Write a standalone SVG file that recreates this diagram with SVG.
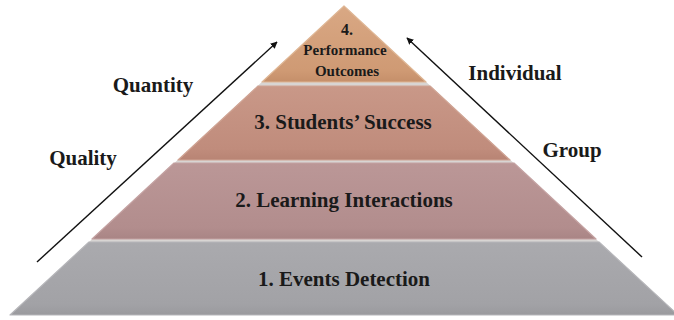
<svg xmlns="http://www.w3.org/2000/svg" width="674" height="320" viewBox="0 0 674 320">
<style>
.t{font-family:"Liberation Serif","Times New Roman",serif;font-weight:bold;fill:#1a1a1a;text-anchor:middle}
.big{font-size:21px}
.sm{font-size:15px}
.tier{stroke-width:1.2;stroke-linejoin:round}
.arr{stroke:#111;stroke-width:1.4;fill:none;marker-end:url(#ah)}
</style>
<defs>
<marker id="ah" viewBox="0 0 10 10" refX="9" refY="5" markerWidth="7" markerHeight="7" orient="auto" markerUnits="userSpaceOnUse">
<path d="M0,0 L10,5 L0,10 Z" fill="#111"/>
</marker>
<linearGradient id="g4" x1="0" y1="0" x2="0" y2="1">
<stop offset="0" stop-color="#d9a884"/><stop offset="0.85" stop-color="#cf9a74"/><stop offset="1" stop-color="#c58f6a"/>
</linearGradient>
<linearGradient id="g3" x1="0" y1="0" x2="0" y2="1">
<stop offset="0" stop-color="#c99888"/><stop offset="0.85" stop-color="#c08c7c"/><stop offset="1" stop-color="#b88474"/>
</linearGradient>
<linearGradient id="g2" x1="0" y1="0" x2="0" y2="1">
<stop offset="0" stop-color="#bb9797"/><stop offset="0.85" stop-color="#b28d8d"/><stop offset="1" stop-color="#a98585"/>
</linearGradient>
<linearGradient id="g1" x1="0" y1="0" x2="0" y2="1">
<stop offset="0" stop-color="#aaaaae"/><stop offset="0.85" stop-color="#a2a2a6"/><stop offset="1" stop-color="#9a9a9e"/>
</linearGradient>
</defs>
<rect width="674" height="320" fill="#ffffff"/>
<polygon points="344,6 678,315 10,315" fill="#d8d5d3"/>
<g id="tier4">
<polygon class="tier" points="344,6 426,82 262,82" fill="url(#g4)" stroke="#dfb694"/>
<text class="t" x="347" y="35" font-size="16">4.</text>
<text class="t sm" x="345" y="55">Performance</text>
<text class="t sm" x="347" y="76">Outcomes</text>
</g>
<g id="tier3">
<polygon class="tier" points="258,86 430,86 510,160 178,160" fill="url(#g3)" stroke="#d0a494"/>
<text class="t big" x="343" y="129">3. Students’ Success</text>
</g>
<g id="tier2">
<polygon class="tier" points="174,163 514,163 596,239 92,239" fill="url(#g2)" stroke="#c4a2a2"/>
<text class="t big" x="344" y="207">2. Learning Interactions</text>
</g>
<g id="tier1">
<polygon class="tier" points="89,242 599,242 678,315 10,315" fill="url(#g1)" stroke="#b6b6ba"/>
<text class="t big" x="344" y="286">1. Events Detection</text>
</g>
<g id="connectors">
<line class="arr" x1="37" y1="262" x2="277" y2="42"/>
<line class="arr" x1="642" y1="257" x2="407" y2="38"/>
</g>
<g id="labels">
<text class="t big" x="153" y="92">Quantity</text>
<text class="t big" x="83" y="165">Quality</text>
<text class="t big" x="515" y="80">Individual</text>
<text class="t big" x="572" y="157">Group</text>
</g>
</svg>
